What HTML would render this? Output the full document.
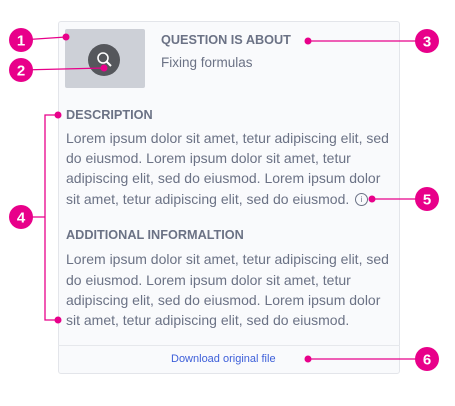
<!DOCTYPE html>
<html><head><style>
body{margin:0;width:455px;height:406px;background:#fff;position:relative;font-family:"Liberation Sans",Arial,sans-serif;overflow:hidden}
.card{position:absolute;left:58px;top:21px;width:342px;height:353px;border:1px solid #e3e5ea;border-radius:3px;background:#f9fafc;box-sizing:border-box}
.t{position:absolute;white-space:nowrap;color:#6b7285}
.h{font-weight:bold;font-size:12.7px;color:#6b7285}
.p{font-size:14px;left:66px}
</style></head><body>
<div class="card"></div>
<div style="position:absolute;left:58px;top:345px;width:342px;border-top:1px solid #e6e8ec"></div>
<div style="position:absolute;left:65px;top:29px;width:80px;height:59px;background:#cdd0d7;border-radius:2px"></div>
<div style="position:absolute;left:88px;top:44px;width:32px;height:32px;border-radius:50%;background:#55575c"></div>
<svg style="position:absolute;left:88px;top:44px" width="32" height="32"><circle cx="15" cy="14" r="5" fill="none" stroke="#fff" stroke-width="1.6"/><line x1="18.5" y1="17.5" x2="23" y2="22" stroke="#fff" stroke-width="2"/></svg>
<div class="t h" style="left:161px;top:33px">QUESTION IS ABOUT</div>
<div class="t" style="left:161px;top:55px;font-size:13.5px">Fixing formulas</div>
<div class="t h" style="left:66px;top:108px">DESCRIPTION</div>
<div class="t p" style="top:130px">Lorem ipsum dolor sit amet, tetur adipiscing elit, sed</div>
<div class="t p" style="top:150px">do eiusmod. Lorem ipsum dolor sit amet, tetur</div>
<div class="t p" style="top:170px">adipiscing elit, sed do eiusmod. Lorem ipsum dolor</div>
<div class="t p" style="top:191px">sit amet, tetur adipiscing elit, sed do eiusmod.</div>
<div style="position:absolute;left:355px;top:193px;width:11px;height:11px;border:1px solid #6b7285;border-radius:50%;font-size:8px;line-height:11px;text-align:center;color:#6b7285">i</div>
<div class="t h" style="left:66px;top:228px">ADDITIONAL INFORMALTION</div>
<div class="t p" style="top:251px">Lorem ipsum dolor sit amet, tetur adipiscing elit, sed</div>
<div class="t p" style="top:272px">do eiusmod. Lorem ipsum dolor sit amet, tetur</div>
<div class="t p" style="top:292px">adipiscing elit, sed do eiusmod. Lorem ipsum dolor</div>
<div class="t p" style="top:312px">sit amet, tetur adipiscing elit, sed do eiusmod.</div>
<div class="t" style="left:171px;top:353px;font-size:11px;color:#3d5fd9">Download original file</div>
<svg style="position:absolute;left:0;top:0" width="455" height="406">
<g stroke="#e8008a" stroke-width="1.3" fill="none">
<line x1="21" y1="40" x2="66" y2="37"/>
<line x1="21" y1="70" x2="104" y2="68"/>
<line x1="308" y1="41" x2="427" y2="41"/>
<polyline points="58,115 45,115 45,320 58,320"/>
<line x1="21" y1="217" x2="45" y2="217"/>
<line x1="372" y1="199" x2="427" y2="199"/>
<line x1="308" y1="359" x2="427" y2="359"/>
</g>
<g fill="#e8008a">
<circle cx="66" cy="37" r="3.5"/><circle cx="104" cy="68" r="3.5"/><circle cx="308" cy="41" r="3.5"/>
<circle cx="58" cy="115" r="3.5"/><circle cx="58" cy="320" r="3.5"/><circle cx="372" cy="199" r="3.5"/><circle cx="308" cy="359" r="3.5"/>
<circle cx="21" cy="40" r="12"/><circle cx="21" cy="70" r="12"/><circle cx="427" cy="41" r="12"/>
<circle cx="21" cy="217" r="12"/><circle cx="427" cy="199" r="12"/><circle cx="427" cy="359" r="12"/>
</g>
<g fill="#fff" font-family="Liberation Sans,Arial,sans-serif" font-weight="bold" font-size="15" text-anchor="middle">
<text x="21" y="45.5">1</text><text x="21" y="75.5">2</text><text x="427" y="46.5">3</text>
<text x="21" y="222.5">4</text><text x="427" y="204.5">5</text><text x="427" y="364.5">6</text>
</g>
</svg>
</body></html>
